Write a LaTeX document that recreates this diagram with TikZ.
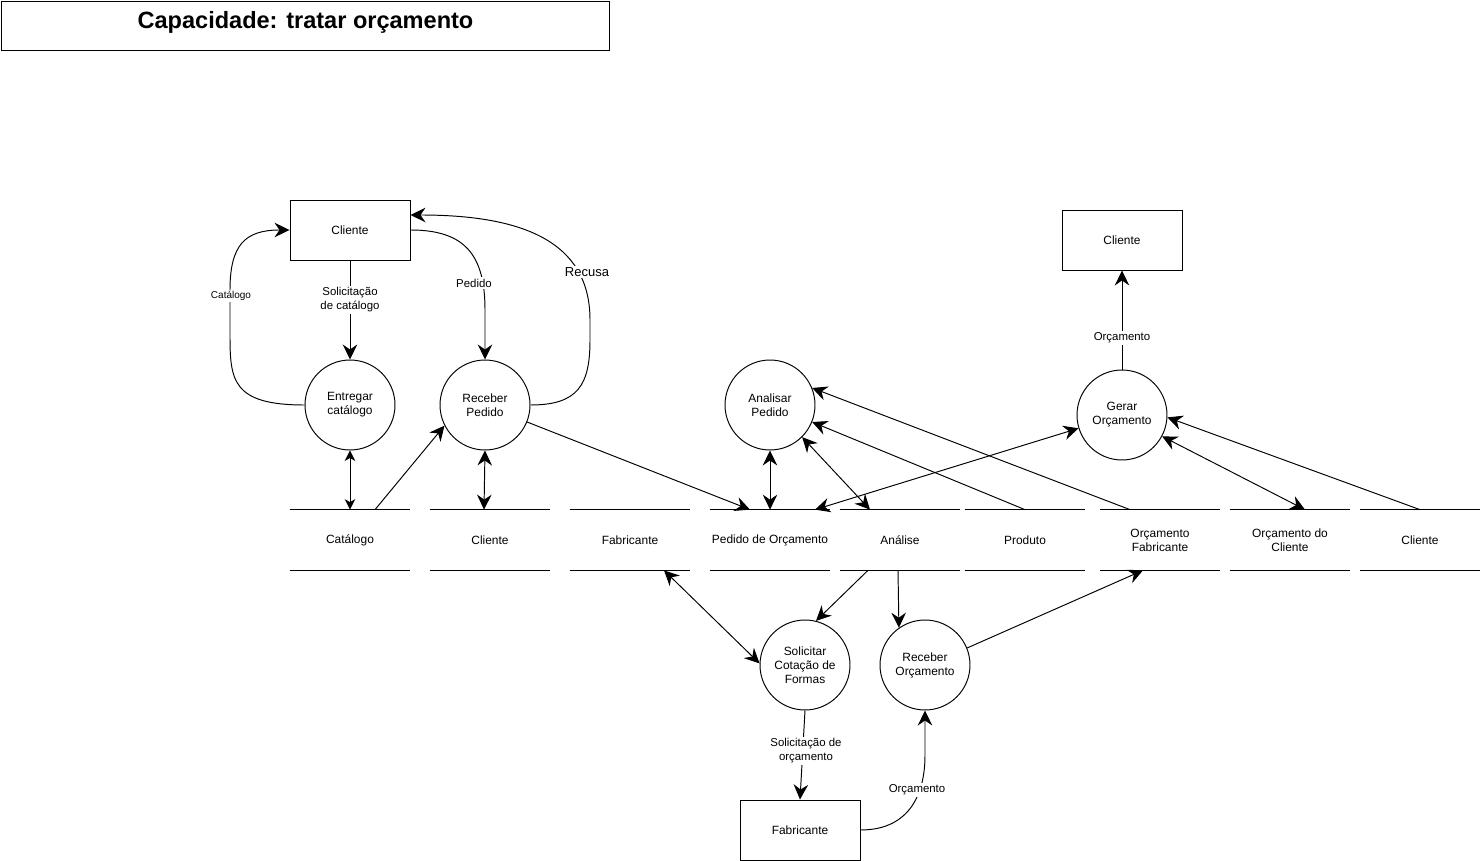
\documentclass[tikz,border=0pt]{standalone}
\usepackage{fontspec}
\setmainfont{Liberation Sans}
\usetikzlibrary{arrows.meta,calc}
\tikzset{
  titlebox/.style={draw=black, line width=0.55pt, minimum width=12.18cm, minimum height=0.98cm, inner sep=0pt, text depth=6pt, font=\fontsize{13.4}{15}\selectfont\bfseries},
  ent/.style={draw=black, line width=0.55pt, minimum width=2.4cm, minimum height=1.2cm, inner sep=2pt, align=center, font=\fontsize{6.8}{8}\selectfont},
  proc/.style={draw=black, circle, line width=0.55pt, minimum size=1.8cm, inner sep=0pt, align=center, font=\fontsize{6.8}{8}\selectfont},
  store/.style={minimum width=2.4cm, minimum height=1.2cm, inner sep=0pt, align=center, font=\fontsize{6.8}{8}\selectfont},
  arrow/.style={-{Stealth[length=3mm,width=2.9mm,inset=1mm]}, line width=0.55pt},
  dblarrow/.style={{Stealth[length=3mm,width=2.9mm,inset=1mm]}-{Stealth[length=3mm,width=2.9mm,inset=1mm]}, line width=0.55pt},
  smalldbl/.style={{Stealth[length=2.1mm,width=2.1mm,inset=0.6mm]}-{Stealth[length=2.1mm,width=2.1mm,inset=0.6mm]}, line width=0.55pt},
  lbl/.style={fill=white, inner sep=1pt, align=center, font=\fontsize{6.5}{8}\selectfont}
}
\begin{document}
\begin{tikzpicture}[x=0.02cm, y=-0.02cm]
\useasboundingbox (0,0) rectangle (1481,861);
\node[titlebox] (t) at (305.5,25.5) {Capacidade: tratar orçamento};
% entidades externas
\node[ent] (c1) at (350,230) {Cliente};
\node[ent] (c2) at (1122,240) {Cliente};
\node[ent] (fb) at (800,830) {Fabricante};
% processos
\node[proc] (ec) at (350,405) {Entregar\\catálogo};
\node[proc] (rp) at (485,405) {Receber\\Pedido};
\node[proc] (ap) at (770,405) {Analisar\\Pedido};
\node[proc] (go) at (1122,415) {Gerar\\Orçamento};
\node[proc] (sc) at (805,665) {Solicitar\\Cotação de\\Formas};
\node[proc] (ro) at (925,665) {Receber\\Orçamento};
% depositos de dados
\node[store] (s1) at (350,540) {Catálogo};
\node[store] (s2) at (490,540) {Cliente};
\node[store] (s3) at (630,540) {Fabricante};
\node[store] (s4) at (770,540) {Pedido de Orçamento};
\node[store] (s5) at (900,540) {Análise};
\node[store] (s6) at (1025,540) {Produto};
\node[store] (s7) at (1160,540) {Orçamento\\Fabricante};
\node[store] (s8) at (1290,540) {Orçamento do\\Cliente};
\node[store] (s9) at (1420,540) {Cliente};
\foreach \s in {1,...,9}
  \draw[line width=0.55pt] (s\s.north west) -- (s\s.north east) (s\s.south west) -- (s\s.south east);
% fluxos
\draw[arrow] (c1.south) -- (ec.north);
\draw[arrow] (ec.west) .. controls (232,405) and (230,380) .. (230,335) -- (230,290) .. controls (230,245) and (245,230) .. (c1.west);
\draw[arrow] (c1.east) .. controls (465,230) and (485,255) .. (485,310) -- (rp.north);
\draw[arrow] (rp.east) .. controls (578,405) and (590,385) .. (590,340) -- (590,320) .. controls (590,240) and (520,215) .. ($(c1.east)+(0,-15)$);
\draw[smalldbl] (ec.south) -- (s1.north);
\draw[arrow] ($(s1.north)+(25,0)$) -- (rp.207);
\draw[dblarrow] (rp.south) -- ($(s2.north)+(-6,0)$);
\draw[arrow] (rp.-22) -- ($(s4.north)+(-20,0)$);
\draw[dblarrow] (ap.south) -- (s4.north);
\draw[dblarrow] (ap.-45) -- ($(s5.north)+(-30,0)$);
\draw[arrow] (s6.north) -- (ap.-22);
\draw[arrow] ($(s7.north)+(-30,0)$) -- (ap.22);
\draw[dblarrow] (go.197) -- ($(s4.north)+(45,0)$);
\draw[arrow] (go.north) -- (c2.south);
\draw[dblarrow] (go.-28) -- ($(s8.north)+(15,0)$);
\draw[arrow] (s9.north) -- (go.-3);
\draw[dblarrow] ($(s3.south)+(34,0)$) -- (sc.178);
\draw[arrow] ($(s5.south)+(-32,0)$) -- (sc.76);
\draw[arrow] ($(s5.south)+(-2,0)$) -- (ro.125);
\draw[arrow] (ro.22) -- ($(s7.south)+(-17,0)$);
\draw[arrow] (sc.south) -- (fb.north);
\draw[arrow] (fb.east) .. controls (905,830) and (925,800) .. (925,755) -- (ro.south);
% rotulos
\node[lbl] (l1) at (350,300) {Solicitação\\de catálogo};
\node[lbl, font=\fontsize{5.7}{7}\selectfont] (l2) at (231,296) {Catálogo};
\node[lbl] (l3) at (474,283) {Pedido};
\node[lbl, font=\fontsize{7.4}{9}\selectfont] (l4) at (587,272) {Recusa};
\node[lbl] (l5) at (1122,338) {Orçamento};
\node[lbl] (l6) at (806,751) {Solicitação de\\orçamento};
\node[lbl] (l7) at (917,790) {Orçamento};
\end{tikzpicture}
\end{document}
